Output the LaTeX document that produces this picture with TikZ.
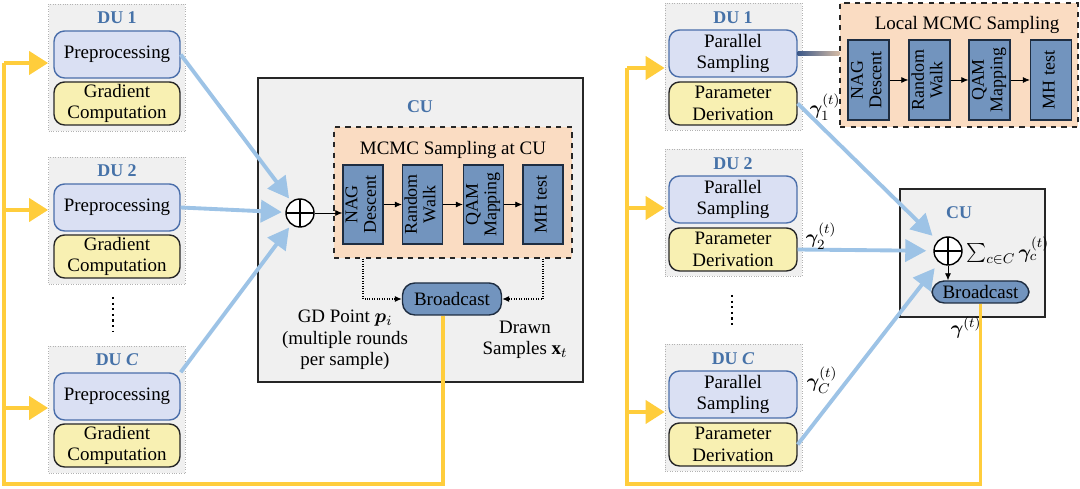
\documentclass[tikz,border=0pt]{standalone}
\usepackage{amsmath, amssymb}
\usepackage{fontspec}
\setmainfont{Liberation Serif}
\usepackage{bm}
\usepackage{graphicx}
\usetikzlibrary{arrows.meta, positioning, calc}

\definecolor{DUGray}{RGB}{240,240,240}
\definecolor{TitleBlue}{RGB}{70,114,168}
\definecolor{PreBlue}{RGB}{218,224,243}
\definecolor{PreEdge}{RGB}{74,110,170}
\definecolor{GradYellow}{RGB}{248,240,178}
\definecolor{BlockBlue}{RGB}{114,148,190}
\definecolor{BlockEdge}{RGB}{30,45,65}
\definecolor{MCMCPeach}{RGB}{250,220,194}
\definecolor{LinkBlue}{RGB}{157,195,230}
\definecolor{FeedYellow}{RGB}{255,205,60}

\tikzset{
	du/.style={draw=gray!60, densely dotted, fill=DUGray, minimum width=2.74cm,
		minimum height=2.54cm, inner sep=0pt},
	dutitle/.style={font=\fontsize{10.2}{12}\selectfont\bfseries, text=TitleBlue, inner sep=0pt},
	prebox/.style={draw=PreEdge, thick, fill=PreBlue, rounded corners=6pt, minimum width=2.52cm,
		minimum height=0.94cm, align=center, inner sep=0pt},
	gradbox/.style={draw=black!85, thick, fill=GradYellow, rounded corners=6pt, minimum width=2.52cm,
		minimum height=0.86cm, align=center, inner sep=0pt},
	blk/.style={draw=BlockEdge, thick, fill=BlockBlue, minimum width=0.8cm, minimum height=1.58cm,
		inner sep=0pt, font=\fontsize{10.2}{10.5}\selectfont},
	bcast/.style={draw=BlockEdge, thick, fill=BlockBlue, rounded corners=7pt, inner sep=0pt},
	cubox/.style={draw=black!85, thick, fill=DUGray, inner sep=0pt},
	mcmc/.style={draw=black!85, thick, dashed, fill=MCMCPeach, inner sep=0pt},
	oplus/.style={circle, draw, thick, fill=white, minimum size=0.56cm, inner sep=0pt,
		path picture={\draw[thick] (path picture bounding box.north) -- (path picture bounding box.south)
			(path picture bounding box.west) -- (path picture bounding box.east);}},
	blink/.style={draw=LinkBlue, line width=2.2pt, -{Triangle[length=0.42cm,width=0.44cm]}, shorten >=2pt},
	yline/.style={draw=FeedYellow, line width=2.2pt},
	yarrow/.style={yline, -{Triangle[length=0.38cm,width=0.46cm]}},
	flow/.style={-{Latex[length=1.4mm,width=1.2mm]}, thin},
	dotflow/.style={flow, densely dotted, semithick},
}
\newcommand{\vlabel}[1]{\rotatebox{90}{\begin{tabular}{@{}c@{}}#1\end{tabular}}}

\begin{document}
\begin{tikzpicture}[x=0.02cm, y=-0.02cm, font=\fontsize{10.8}{12.3}\selectfont]
	\useasboundingbox (0,0) rectangle (1080,489);

	% ---------- left: gradient based scheme ----------
	\foreach \i/\y/\lab in {1/67.5/1, 2/220.5/2, C/409.5/\textit{C}}{
		\node[du] (dl\i) at (117,\y) {};
		\node[dutitle] (tl\i) at (117,\y-49.5) {DU \lab};
		\node[prebox] (pre\i) at (117,\y-13) {Preprocessing};
		\node[gradbox] (grad\i) at (117,\y+36) {Gradient\\Computation};
	}
	\draw[dotted, line width=1.2pt] (113,297) -- (113,331);

	\node[cubox, minimum width=6.5cm, minimum height=6.08cm] (cuL) at (420.5,230) {};
	\node[dutitle] (cuLt) at (420,107) {CU};
	\node[mcmc, minimum width=4.76cm, minimum height=2.62cm] (mcL) at (453,192.5) {};
	\node (mcLt) at (453,150) {MCMC Sampling at CU};
	\node[blk] (nagL) at (363,204.5) {\vlabel{NAG\\Descent}};
	\node[blk] (rwL) at (422.5,204.5) {\vlabel{Random\\Walk}};
	\node[blk] (qamL) at (483.5,204.5) {\vlabel{QAM\\Mapping}};
	\node[blk] (mhL) at (543,204.5) {\vlabel{MH test}};
	\draw[flow] (nagL) -- (rwL);
	\draw[flow] (rwL) -- (qamL);
	\draw[flow] (qamL) -- (mhL);

	\node[oplus] (opL) at (300,213) {};
	\draw[flow] (opL.east) -- (opL.east -| nagL.west);

	\node[bcast, minimum width=1.98cm, minimum height=0.64cm] (bcL) at (452,299) {Broadcast};
	\draw[dotflow] (nagL.south |- mcL.south) |- (bcL.west);
	\draw[dotflow] (mhL.south |- mcL.south) |- (bcL.east);
	\node[align=center] (gdp) at (345,340) {GD Point $\bm{p}_i$\\(multiple rounds\\per sample)};
	\node[align=center] (drawn) at (525,340) {Drawn\\Samples $\mathbf{x}_t$};

	\draw[blink] (pre1.east) -- (opL);
	\draw[blink] (pre2.east) -- (opL);
	\draw[blink] (preC.north east) -- (opL);

	% feedback
	\coordinate (fL1) at (4,63);
	\coordinate (fL2) at (4,210);
	\coordinate (fL3) at (4,408);
	\coordinate (fLb) at (4,484);
	\draw[yline] ([xshift=-0.18cm]bcL.south) |- (fLb) -- (fL1);
	\draw[yarrow] (fL1) -- (fL1 -| dl1.west);
	\draw[yarrow] (fL2) -- (fL2 -| dl2.west);
	\draw[yarrow] (fL3) -- (fL3 -| dlC.west);

	% ---------- right: local sampling scheme ----------
	\foreach \i/\y/\lab in {1/66.5/1, 2/212.5/2, C/407.5/\textit{C}}{
		\node[du] (dr\i) at (733.5,\y) {};
		\node[dutitle] (tr\i) at (733,\y-48.5) {DU \lab};
		\node[prebox, minimum width=2.56cm] (ps\i) at (733,\y-13) {Parallel\\Sampling};
		\node[gradbox, minimum width=2.56cm] (pd\i) at (733,\y+37) {Parameter\\Derivation};
	}
	\draw[dotted, line width=1.2pt] (732,295) -- (732,328);

	\node[mcmc, minimum width=4.76cm, minimum height=2.48cm] (mcR) at (959,65) {};
	\node (mcRt) at (967,25) {Local MCMC Sampling};
	\node[blk, minimum width=0.82cm, minimum height=1.6cm] (nagR) at (868.5,80) {\vlabel{NAG\\Descent}};
	\node[blk, minimum width=0.82cm, minimum height=1.6cm] (rwR) at (929.5,80) {\vlabel{Random\\Walk}};
	\node[blk, minimum width=0.82cm, minimum height=1.6cm] (qamR) at (989.5,80) {\vlabel{QAM\\Mapping}};
	\node[blk, minimum width=0.82cm, minimum height=1.6cm] (mhR) at (1051,80) {\vlabel{MH test}};
	\draw[flow] (nagR) -- (rwR);
	\draw[flow] (rwR) -- (qamR);
	\draw[flow] (qamR) -- (mhR);
	\shade[left color=PreEdge!80!black, right color=MCMCPeach!85!black]
		($(ps1.east)+(0,-1pt)$) rectangle ($(mcR.west |- ps1.east)+(0,1pt)$);

	\node[cubox, minimum width=2.9cm, minimum height=2.56cm] (cuR) at (972.5,253) {};
	\node[dutitle] (cuRt) at (959,213) {CU};
	\node[oplus] (opR) at (948,251) {};
	\node[anchor=west, inner sep=0pt] (sumR) at (966,251) {$\sum_{c\in C}\bm{\gamma}_c^{(t)}$};
	\node[bcast, minimum width=1.94cm, minimum height=0.44cm] (bcR) at (980.5,292) {Broadcast};
	\draw[flow] (opR) -- (opR |- bcR.north);

	\draw[blink, shorten >=4pt] (pd1.east) -- (opR);
	\draw[blink, shorten >=4pt] (pd2.east) -- (opR);
	\draw[blink, shorten >=4pt] (pdC.east) -- (opR);
	\node (g1) at (825,107) {$\bm{\gamma}_1^{(t)}$};
	\node (g2) at (821,236) {$\bm{\gamma}_2^{(t)}$};
	\node (gC) at (822,380) {$\bm{\gamma}_C^{(t)}$};

	% feedback
	\coordinate (fR1) at (627,68);
	\coordinate (fR2) at (627,208);
	\coordinate (fR3) at (627,412);
	\coordinate (fRb) at (627,484);
	\draw[yline] (bcR.south) |- (fRb) -- (fR1);
	\draw[yarrow] (fR1) -- (fR1 -| dr1.west);
	\draw[yarrow] (fR2) -- (fR2 -| dr2.west);
	\draw[yarrow] (fR3) -- (fR3 -| drC.west);
	\node (gR) at (966,328) {$\bm{\gamma}^{(t)}$};
\end{tikzpicture}
\end{document}
